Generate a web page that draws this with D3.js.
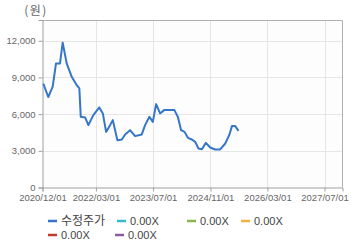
<!DOCTYPE html>
<html>
<head>
<meta charset="utf-8">
<script src="https://cdn.jsdelivr.net/npm/d3@7"></script>
<style>
  body { margin: 0; background: #fff; }
  svg { display: block; font-family: "Liberation Sans", Arial, sans-serif; }
</style>
</head>
<body>
<div id="chart"></div>
<script>
// price series (수정주가)
const dates = [
  "2020-12-08", "2021-01-19", "2021-02-26", "2021-03-26", "2021-04-29", "2021-05-22",
  "2021-06-25", "2021-08-07", "2021-09-19", "2021-10-11", "2021-10-23", "2021-11-29",
  "2021-12-27", "2022-02-07", "2022-03-30", "2022-04-29", "2022-05-27", "2022-06-30",
  "2022-07-23", "2022-08-31", "2022-10-08", "2022-11-05", "2022-12-17", "2023-01-29",
  "2023-03-27", "2023-04-24", "2023-05-31", "2023-06-29", "2023-07-27", "2023-08-30",
  "2023-10-03", "2023-12-30", "2024-01-28", "2024-02-25", "2024-03-25", "2024-04-23",
  "2024-05-27", "2024-06-24", "2024-07-22", "2024-08-20", "2024-09-23", "2024-10-30",
  "2024-12-11", "2025-01-23", "2025-03-07", "2025-04-10", "2025-05-03", "2025-05-31",
  "2025-06-28"
];
const prices = [
  8500, 7400, 8250, 10150, 10150, 11850,
  10150, 9050, 8370, 8100, 5780, 5730,
  5100, 5920, 6550, 6060, 4550, 5100,
  5510, 3870, 3930, 4340, 4690, 4200,
  4340, 5100, 5780, 5370, 6820, 6060,
  6330, 6330, 5780, 4690, 4550, 4060,
  3930, 3730, 3190, 3130, 3650, 3270,
  3110, 3110, 3600, 4280, 5020, 5020,
  4630
];

const xTicks = ["2020-12-01", "2022-03-01", "2023-07-01", "2024-11-01", "2026-03-01", "2027-07-01"];
const yTicks = [0, 3000, 6000, 9000, 12000];
const unitLabel = "(원)";

const legendNames = ["수정주가", "0.00X", "0.00X", "0.00X", "0.00X", "0.00X"];
const legendColors = ["#3676c8", "#2ebdc9", "#8cb650", "#f0b23e", "#c23b2e", "#8e5b9c"];

const width = 360, height = 248;
const margin = {top: 20, right: 17.5, bottom: 60.5, left: 42.5};
const parse = d3.timeParse("%Y-%m-%d");
const fmt = d3.timeFormat("%Y/%m/%d");

const x = d3.scaleTime()
  .domain([parse("2020-12-01"), parse("2027-12-01")])
  .range([margin.left, width - margin.right]);
const y = d3.scaleLinear()
  .domain([0, 13700])
  .range([height - margin.bottom, margin.top]);

const svg = d3.select("#chart").append("svg")
  .attr("width", width)
  .attr("height", height);

// plot background
svg.append("rect")
  .attr("x", margin.left).attr("y", margin.top)
  .attr("width", width - margin.right - margin.left)
  .attr("height", height - margin.bottom - margin.top)
  .attr("fill", "#fdfdfd");

// grid
svg.append("g")
  .attr("stroke", "#e6e6e6")
  .selectAll("line")
  .data(yTicks.slice(1))
  .join("line")
  .attr("x1", margin.left).attr("x2", width - margin.right)
  .attr("y1", d => Math.round(y(d)) + 0.5).attr("y2", d => Math.round(y(d)) + 0.5);

svg.append("g")
  .attr("stroke", "#e6e6e6")
  .selectAll("line")
  .data(xTicks.slice(1))
  .join("line")
  .attr("x1", d => Math.round(x(parse(d))) + 0.5).attr("x2", d => Math.round(x(parse(d))) + 0.5)
  .attr("y1", margin.top).attr("y2", height - margin.bottom);

// frame top/right
svg.append("path")
  .attr("fill", "none")
  .attr("stroke", "#b0b0b0")
  .attr("d", `M${margin.left},${margin.top + 0.5}H${width - margin.right}V${height - margin.bottom}`);

// axes
const yAxis = svg.append("g")
  .attr("transform", `translate(${margin.left},0)`)
  .call(d3.axisLeft(y).tickValues(yTicks).tickSize(4).tickPadding(3).tickFormat(d3.format(",")));
const xAxis = svg.append("g")
  .attr("transform", `translate(0,${height - margin.bottom})`)
  .call(d3.axisBottom(x).tickValues(xTicks.map(parse)).tickSize(4).tickPadding(3).tickFormat(fmt));

[yAxis, xAxis].forEach(a => {
  a.select(".domain").attr("stroke", "#a0a0a0");
  a.selectAll(".tick line").attr("stroke", "#a0a0a0");
  a.selectAll(".tick text").attr("fill", "#666").attr("font-size", 9.5);
});

svg.append("text")
  .attr("x", 36).attr("y", 15)
  .attr("text-anchor", "middle")
  .attr("fill", "#666")
  .attr("font-size", 12)
  .attr("letter-spacing", 1.5)
  .attr("font-family", "'Noto Sans CJK KR', sans-serif")
  .text(unitLabel);

// price line
const line = d3.line()
  .x((d, i) => x(parse(dates[i])))
  .y(d => y(d));
svg.append("path")
  .datum(prices)
  .attr("fill", "none")
  .attr("stroke", legendColors[0])
  .attr("stroke-width", 2)
  .attr("stroke-linejoin", "round")
  .attr("d", line);

// legend
const legendPos = [[48, 221], [117, 221], [187, 221], [241, 221], [48, 235], [115, 235]];
const lg = svg.append("g")
  .selectAll("g")
  .data(legendNames)
  .join("g")
  .attr("transform", (d, i) => `translate(${legendPos[i][0]},${legendPos[i][1]})`);
lg.append("line")
  .attr("x1", 0).attr("x2", 9)
  .attr("stroke", (d, i) => legendColors[i])
  .attr("stroke-width", 2.5);
lg.append("text")
  .attr("x", 13).attr("y", 4)
  .attr("fill", "#444")
  .attr("font-size", (d, i) => i === 0 ? 12 : 11)
  .attr("font-family", (d, i) => i === 0 ? "'Noto Sans CJK KR', sans-serif" : "'Liberation Sans', Arial, sans-serif")
  .text(d => d);
</script>
</body>
</html>
